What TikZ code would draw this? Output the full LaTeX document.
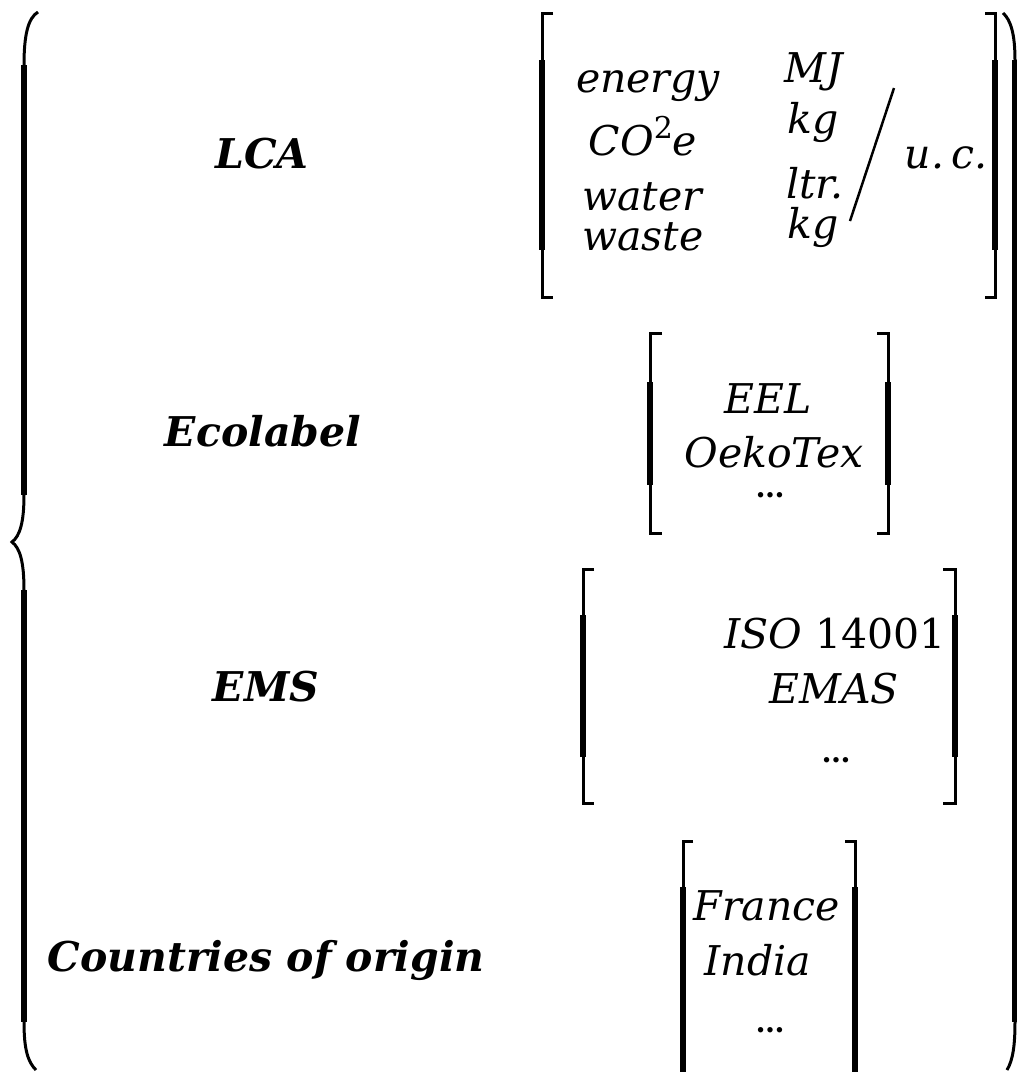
\documentclass[tikz,border=0pt]{standalone}
\usepackage{fontspec}
\setmainfont{DejaVu Serif}
\begin{document}
\begin{tikzpicture}[x=1pt,y=-1pt]
  \tikzstyle{heading}=[anchor=base,inner sep=0pt,font=\fontsize{41}{41}\selectfont\bfseries\itshape]
  \tikzstyle{entry}=[anchor=base,inner sep=0pt,font=\fontsize{41}{41}\selectfont\itshape]
  \tikzstyle{ellip}=[anchor=base,inner sep=0pt,text height=4pt,text depth=0pt,font=\fontsize{29}{29}\selectfont\bfseries]
  \tikzstyle{brkthin}=[line width=3pt]
  \tikzstyle{brkthick}=[line width=6pt]
  \useasboundingbox (0,0) rectangle (1017,1072);
  \clip (0,0) rectangle (1017,1072);

  % outer brace and parenthesis
  \draw[brkthin] (38,12) .. controls (28,18) and (24,35) .. (24,65) -- (24,495)
    .. controls (24,522) and (20,536) .. (12,542) .. controls (20,548) and (24,562) .. (24,590)
    -- (24,1022) .. controls (24,1050) and (28,1062) .. (36,1070);
  \draw[brkthick] (24,65) -- (24,495);
  \draw[brkthick] (24,590) -- (24,1022);
  \draw[brkthin] (1003,13) .. controls (1011,20) and (1015,35) .. (1015,60) -- (1015,1022)
    .. controls (1015,1045) and (1013,1060) .. (1007,1070);
  \draw[brkthick] (1015,60) -- (1015,1022);

  % headings
  \node[heading] (LCA) at (262,168) {LCA};
  \node[heading] (ecolabel) at (263,446) {Ecolabel};
  \node[heading] (EMS) at (266,701) {EMS};
  \node[heading] (origin) at (266,971) {Countries of origin};

  % LCA
  \draw[brkthin] (553,13) -- (542,13) -- (542,297) -- (553,297);
  \draw[brkthick] (542,60) -- (542,250);
  \draw[brkthin] (985,13) -- (995,13) -- (995,297) -- (985,297);
  \draw[brkthick] (995,60) -- (995,250);
  \node[entry] (energy) at (648,92) {energy};
  \node[entry] (CO2) at (643,155) {CO\raisebox{0.4em}{\fontsize{30}{30}\selectfont\upshape 2}e};
  \node[entry] (water) at (642,210) {water};
  \node[entry] (waste) at (643,250) {waste};
  \node[entry] (MJ) at (814,82) {MJ};
  \node[entry] (kg) at (813,133) {kg};
  \node[entry] (ltr) at (815,198) {ltr.};
  \node[entry] (kg2) at (813,238) {kg};
  \coordinate (slashtop) at (894,88);
  \coordinate (slashbot) at (850,221);
  \draw[line width=2.5pt] (slashtop) -- (slashbot);
  \node[entry] (uc) at (946,168) {u.\,c.};

  % Ecolabel
  \draw[brkthin] (662,333) -- (650,333) -- (650,533) -- (662,533);
  \draw[brkthick] (650,382) -- (650,485);
  \draw[brkthin] (877,333) -- (888,333) -- (888,533) -- (877,533);
  \draw[brkthick] (888,382) -- (888,485);
  \node[entry] (EEL) at (768,413) {EEL};
  \node[entry] (oeko) at (774,467) {OekoTex};
  \node[ellip] (ecodots) at (770,497) {…};

  % EMS
  \draw[brkthin] (594,569) -- (583,569) -- (583,803) -- (594,803);
  \draw[brkthick] (583,615) -- (583,757);
  \draw[brkthin] (943,569) -- (955,569) -- (955,803) -- (943,803);
  \draw[brkthick] (955,615) -- (955,757);
  \node[entry] (ISO) at (835,648) {ISO {\upshape 14001}};
  \node[entry] (EMAS) at (834,703) {EMAS};
  \node[ellip] (emsdots) at (836,762) {…};

  % countries
  \draw[brkthin] (693,841) -- (683,841) -- (683,1100);
  \draw[brkthick] (683,887) -- (683,1100);
  \draw[brkthin] (845,841) -- (855,841) -- (855,1100);
  \draw[brkthick] (855,887) -- (855,1100);
  \node[entry] (france) at (767,920) {France};
  \node[entry] (india) at (758,975) {India};
  \node[ellip] (origindots) at (770,1032) {…};
\end{tikzpicture}
\end{document}
